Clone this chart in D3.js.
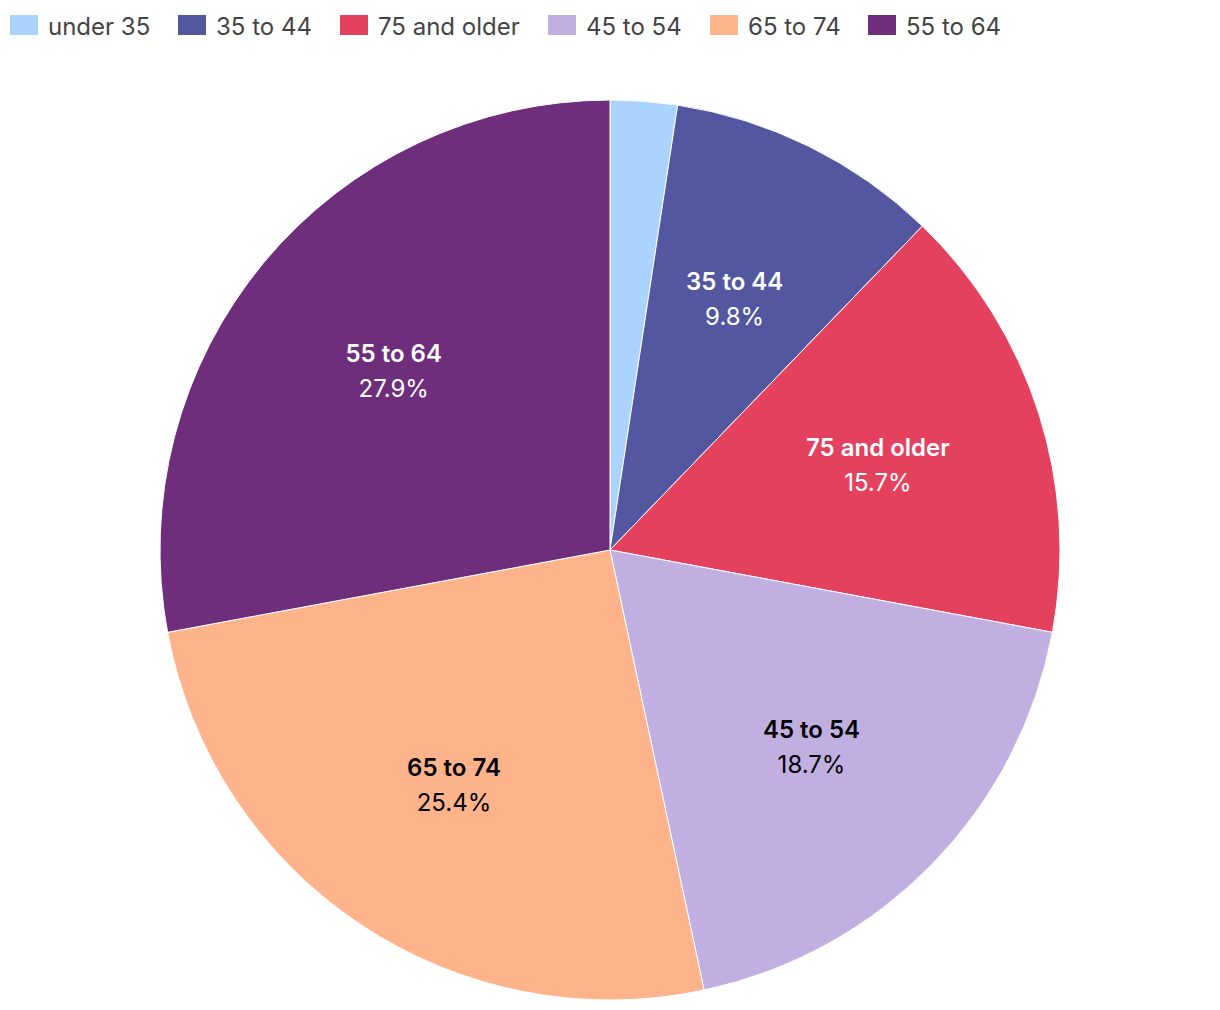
<!DOCTYPE html>
<html>
<head>
<meta charset="utf-8">
<script src="https://cdn.jsdelivr.net/npm/d3@7/dist/d3.min.js"></script>
<style>
  body { margin: 0; background: #fff; }
  text { font-family: Inter, "Open Sans", sans-serif; }
</style>
</head>
<body>
<div id="chart"></div>
<script>
  // slices in clockwise order starting at 12 o'clock
  var groups = ["under 35", "35 to 44", "75 and older", "45 to 54", "65 to 74", "55 to 64"];
  var shares = [2.4, 9.8, 15.7, 18.7, 25.4, 27.9];
  var colors = ["#aad4fe", "#52579f", "#e4415e", "#c2afe2", "#ffb38b", "#6f2e7b"];
  var labelColors = ["#000", "#fff", "#fff", "#000", "#000", "#fff"];
  var showLabel = [false, true, true, true, true, true];

  var width = 1220, height = 1010;
  var cx = 610, cy = 550, radius = 450;

  var svg = d3.select("#chart").append("svg")
    .attr("width", width).attr("height", height);

  var data = groups.map(function(g, i) {
    return { name: g, value: shares[i], color: colors[i], lc: labelColors[i], show: showLabel[i] };
  });

  var pie = d3.pie().sort(null).value(function(d) { return d.value; });
  var arc = d3.arc().innerRadius(0).outerRadius(radius);
  var labelArc = d3.arc().innerRadius(radius * 0.625).outerRadius(radius * 0.625);

  var g = svg.append("g").attr("transform", "translate(" + cx + "," + cy + ")");

  var slices = g.selectAll("g.slice")
    .data(pie(data))
    .enter().append("g").attr("class", "slice");

  slices.append("path")
    .attr("d", arc)
    .attr("fill", function(d) { return d.data.color; })
    .attr("stroke", "#fff")
    .attr("stroke-width", 1);

  var labels = slices.filter(function(d) { return d.data.show; })
    .append("text")
    .attr("transform", function(d) { return "translate(" + labelArc.centroid(d) + ")"; })
    .attr("text-anchor", "middle")
    .attr("fill", function(d) { return d.data.lc; })
    .style("font-size", "24px");

  labels.append("tspan")
    .attr("x", 0).attr("y", -8)
    .style("font-weight", "600")
    .text(function(d) { return d.data.name; });

  labels.append("tspan")
    .attr("x", 0).attr("y", 27)
    .text(function(d) { return d.data.value.toFixed(1) + "%"; });

  // legend
  var legendX = [10, 178, 340, 548, 710, 868];
  var legend = svg.append("g").selectAll("g.item")
    .data(data)
    .enter().append("g")
    .attr("class", "item")
    .attr("transform", function(d, i) { return "translate(" + legendX[i] + ",15)"; });

  legend.append("rect")
    .attr("width", 28).attr("height", 20)
    .attr("fill", function(d) { return d.color; });

  legend.append("text")
    .attr("x", 38).attr("y", 19.5)
    .attr("fill", "#444")
    .style("font-size", "24px")
    .text(function(d) { return d.name; });
</script>
</body>
</html>
